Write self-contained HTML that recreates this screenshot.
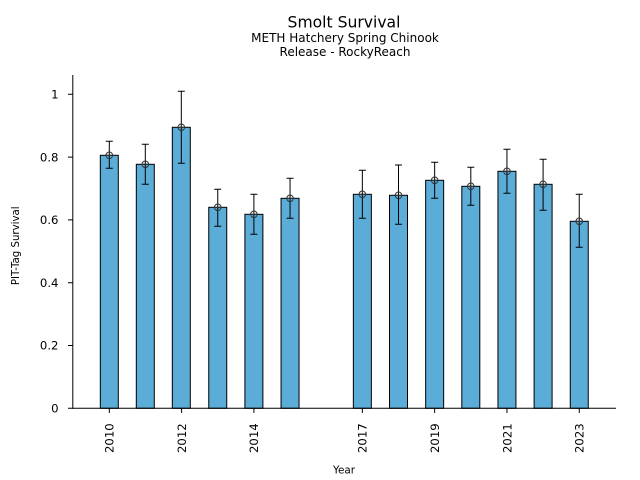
<!DOCTYPE html>
<html>
<head>
<meta charset="utf-8">
<style>
html,body{margin:0;padding:0;background:#fff;}
svg{display:block;}
text{font-family:"DejaVu Sans","Liberation Sans",sans-serif;fill:#000;}
</style>
</head>
<body>
<svg width="640" height="480" viewBox="0 0 640 480" xmlns="http://www.w3.org/2000/svg">
<rect width="640" height="480" fill="#fff"/>
<!-- titles -->
<text x="344" y="27.5" font-size="15.6" text-anchor="middle">Smolt Survival</text>
<text x="345" y="42" font-size="12" text-anchor="middle">METH Hatchery Spring Chinook</text>
<text x="345" y="56" font-size="12" text-anchor="middle">Release - RockyReach</text>

<!-- bars -->
<g fill="#5BACD6" stroke="#000" stroke-width="1">
<rect x="100.3" y="155.3" width="18" height="253"/>
<rect x="136.3" y="164.3" width="18" height="244"/>
<rect x="172.3" y="127.3" width="18" height="281"/>
<rect x="208.75" y="207.3" width="18" height="201"/>
<rect x="244.9" y="214.3" width="18" height="194"/>
<rect x="281.05" y="198.3" width="18" height="210"/>
<rect x="353.35" y="194.3" width="18" height="214"/>
<rect x="389.5" y="195.3" width="18" height="213"/>
<rect x="425.65" y="180.3" width="18" height="228"/>
<rect x="461.8" y="186.3" width="18" height="222"/>
<rect x="497.95" y="171.3" width="18" height="237"/>
<rect x="534.1" y="184.3" width="18" height="224"/>
<rect x="570.25" y="221.3" width="18" height="187"/>
</g>

<!-- error bars -->
<g stroke="#000" stroke-width="1" fill="none">
<path d="M109.3 141.3V168.3M105.8 141.3H112.8M105.8 168.3H112.8"/>
<path d="M145.3 144.3V184.3M141.8 144.3H148.8M141.8 184.3H148.8"/>
<path d="M181.3 91.3V163.3M177.8 91.3H184.8M177.8 163.3H184.8"/>
<path d="M217.75 189.3V226.3M214.25 189.3H221.25M214.25 226.3H221.25"/>
<path d="M253.9 194.3V234.3M250.4 194.3H257.4M250.4 234.3H257.4"/>
<path d="M290.05 178.3V218.3M286.55 178.3H293.55M286.55 218.3H293.55"/>
<path d="M362.35 170.3V218.3M358.85 170.3H365.85M358.85 218.3H365.85"/>
<path d="M398.5 165V224.3M395 165H402M395 224.3H402"/>
<path d="M434.65 162.3V198.3M431.15 162.3H438.15M431.15 198.3H438.15"/>
<path d="M470.8 167.3V205.3M467.3 167.3H474.3M467.3 205.3H474.3"/>
<path d="M506.95 149.3V193.3M503.45 149.3H510.45M503.45 193.3H510.45"/>
<path d="M543.1 159.3V210.3M539.6 159.3H546.6M539.6 210.3H546.6"/>
<path d="M579.25 194.3V247.3M575.75 194.3H582.75M575.75 247.3H582.75"/>
</g>

<!-- markers -->
<g stroke="#333" stroke-width="1" fill="none">
<g transform="translate(109.3 155.3)"><circle r="3.3"/><path d="M-3.3 0H3.3"/></g>
<g transform="translate(145.3 164.3)"><circle r="3.3"/><path d="M-3.3 0H3.3"/></g>
<g transform="translate(181.3 127.3)"><circle r="3.3"/><path d="M-3.3 0H3.3"/></g>
<g transform="translate(217.75 207.3)"><circle r="3.3"/><path d="M-3.3 0H3.3"/></g>
<g transform="translate(253.9 214.3)"><circle r="3.3"/><path d="M-3.3 0H3.3"/></g>
<g transform="translate(290.05 198.3)"><circle r="3.3"/><path d="M-3.3 0H3.3"/></g>
<g transform="translate(362.35 194.3)"><circle r="3.3"/><path d="M-3.3 0H3.3"/></g>
<g transform="translate(398.5 195.3)"><circle r="3.3"/><path d="M-3.3 0H3.3"/></g>
<g transform="translate(434.65 180.3)"><circle r="3.3"/><path d="M-3.3 0H3.3"/></g>
<g transform="translate(470.8 186.3)"><circle r="3.3"/><path d="M-3.3 0H3.3"/></g>
<g transform="translate(506.95 171.3)"><circle r="3.3"/><path d="M-3.3 0H3.3"/></g>
<g transform="translate(543.1 184.3)"><circle r="3.3"/><path d="M-3.3 0H3.3"/></g>
<g transform="translate(579.25 221.3)"><circle r="3.3"/><path d="M-3.3 0H3.3"/></g>
</g>

<!-- spines -->
<g stroke="#000" stroke-width="1" fill="none">
<path d="M72.8 75V408.8"/>
<path d="M72.3 408.3H616"/>
<!-- y ticks -->
<path d="M68 408.3H72.8M68 345.5H72.8M68 282.7H72.8M68 219.9H72.8M68 157.1H72.8M68 94.3H72.8"/>
<!-- x ticks -->
<path d="M109.3 408.3V413M181.6 408.3V413M253.9 408.3V413M362.35 408.3V413M434.65 408.3V413M506.95 408.3V413M579.25 408.3V413"/>
</g>

<!-- y tick labels -->
<g font-size="11.7" text-anchor="end">
<text x="58.5" y="412.5">0</text>
<text x="58.5" y="349.7">0.2</text>
<text x="58.5" y="286.9">0.4</text>
<text x="58.5" y="224.1">0.6</text>
<text x="58.5" y="161.3">0.8</text>
<text x="58.5" y="98.5">1</text>
</g>

<!-- x tick labels -->
<g font-size="11.7" text-anchor="end">
<text transform="translate(113.6 423.3) rotate(-90)">2010</text>
<text transform="translate(185.9 423.3) rotate(-90)">2012</text>
<text transform="translate(258.2 423.3) rotate(-90)">2014</text>
<text transform="translate(366.65 423.3) rotate(-90)">2017</text>
<text transform="translate(438.95 423.3) rotate(-90)">2019</text>
<text transform="translate(511.25 423.3) rotate(-90)">2021</text>
<text transform="translate(583.55 423.3) rotate(-90)">2023</text>
</g>

<!-- axis labels -->
<text x="344" y="473.5" font-size="10.4" text-anchor="middle">Year</text>
<text transform="translate(19 245.8) rotate(-90)" font-size="10.2" text-anchor="middle">PIT-Tag Survival</text>
</svg>
</body>
</html>
